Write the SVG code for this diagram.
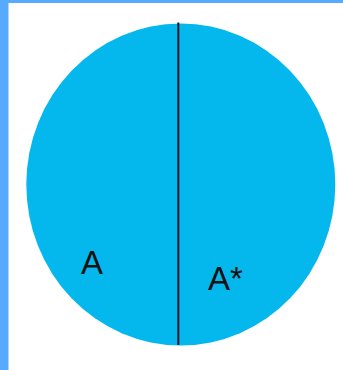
<svg xmlns="http://www.w3.org/2000/svg" width="343" height="370" viewBox="0 0 343 370">
<style>
.lbl{font-family:"Liberation Sans",Arial,sans-serif;font-size:33px;fill:#111;}
</style>
<rect x="0" y="0" width="343" height="370" fill="#ffffff"/>
<rect x="0" y="0" width="343" height="3" fill="#58AAFF"/>
<rect x="0" y="0" width="8.5" height="370" fill="#58AAFF"/>
<g id="set">
<ellipse cx="180.8" cy="184.5" rx="154.5" ry="161" fill="#04B8EE"/>
</g>
<g id="connectors">
<line x1="178.3" y1="22.5" x2="178.3" y2="345" stroke="#0E1A2A" stroke-width="2"/>
</g>
<g id="label-A"><text class="lbl" x="81" y="274">A</text></g>
<g id="label-Astar"><text class="lbl" x="208" y="290">A*</text></g>
</svg>
